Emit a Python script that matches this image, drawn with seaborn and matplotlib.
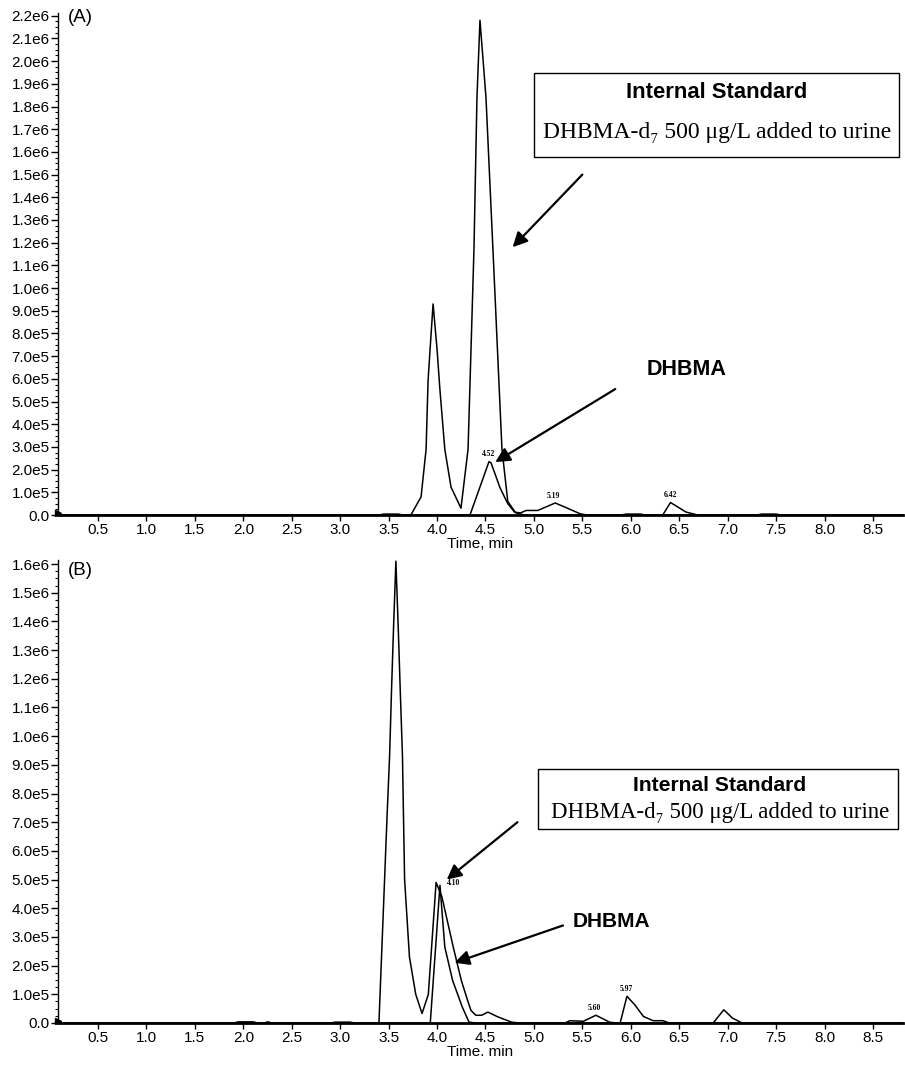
import matplotlib
matplotlib.use("Agg")
import matplotlib.pyplot as plt
import numpy as np
import pandas as pd
import seaborn as sns
from matplotlib.ticker import MultipleLocator, FuncFormatter, AutoMinorLocator
from matplotlib.patches import Rectangle

# ---------------- data ----------------
# Panel A, trace 1 (two large peaks)
a1_time = [0.10, 3.40, 3.45, 3.60, 3.65, 3.73, 3.835, 3.887, 3.907, 3.928, 3.959, 4.00, 4.03,
           4.08, 4.144, 4.247, 4.32, 4.381, 4.412, 4.443, 4.505, 4.577, 4.67, 4.73, 4.81,
           4.90, 5.90, 5.95, 6.10, 6.15, 7.30, 7.35, 7.50, 7.55, 8.81]
a1_int = [0, 0, 4e3, 4e3, 0, 0, 8.0e4, 2.9e5, 5.9e5, 7.3e5, 9.3e5, 7.3e5, 5.5e5,
          2.9e5, 1.23e5, 3.0e4, 2.9e5, 1.17e6, 1.84e6, 2.18e6, 1.84e6, 1.17e6, 2.9e5, 6.0e4, 1.0e4,
          0, 0, 4e3, 4e3, 0, 0, 4e3, 4e3, 0, 0]
# Panel A, trace 2 (DHBMA)
a2_time = [0.10, 4.34, 4.536, 4.557, 4.65, 4.73, 4.80, 4.86, 4.92, 5.04, 5.22, 5.48, 5.55,
           6.33, 6.41, 6.57, 6.69, 8.81]
a2_int = [0, 0, 2.35e5, 2.30e5, 1.2e5, 5.0e4, 1.3e4, 9e3, 2.0e4, 2.0e4, 5.3e4, 5e3, 0,
          0, 5.5e4, 1.3e4, 0, 0]
a_peak_labels = ["4.52", "5.19", "6.42"]
a_peak_times = [4.53, 5.20, 6.41]
a_peak_heights = [2.35e5, 5.3e4, 5.5e4]

# Panel B, trace 1 (large peak near 3.57)
b1_time = [0.10, 1.90, 1.95, 2.10, 2.15, 2.22, 2.25, 2.30, 2.90, 2.95, 3.10, 3.15,
           3.40, 3.485, 3.51, 3.53, 3.55, 3.575, 3.60, 3.62, 3.643, 3.653, 3.665, 3.715,
           3.78, 3.845, 3.91, 3.99, 4.05, 4.167, 4.25, 4.315, 4.35, 4.40, 4.46, 4.525,
           4.63, 4.77, 4.85, 6.85, 6.96, 7.05, 7.15, 8.81]
b1_int = [0, 0, 4e3, 4e3, 0, 0, 4e3, 0, 0, 3e3, 3e3, 0,
          0, 7.3e5, 9.3e5, 1.16e6, 1.37e6, 1.61e6, 1.37e6, 1.16e6, 9.3e5, 7.3e5, 5.0e5, 2.3e5,
          1.0e5, 3.3e4, 1.0e5, 4.9e5, 4.4e5, 2.65e5, 1.49e5, 7.9e4, 4.4e4, 2.7e4, 2.7e4, 3.8e4,
          2.1e4, 3e3, 0, 0, 4.6e4, 1.7e4, 0, 0]
# Panel B, trace 2 (labelled peaks)
b2_time = [0.10, 3.93, 4.03, 4.08, 4.16, 4.26, 4.33, 4.40, 5.32, 5.37, 5.51, 5.64, 5.78,
           5.85, 5.89, 5.96, 6.04, 6.13, 6.23, 6.33, 6.40, 8.81]
b2_int = [0, 0, 4.8e5, 2.65e5, 1.49e5, 5.6e4, 3e3, 0, 0, 8e3, 6e3, 2.7e4, 3e3,
          0, 0, 9.3e4, 6.4e4, 2.3e4, 8e3, 8e3, 0, 0]
b_peak_labels = ["4.10", "5.60", "5.97"]
b_peak_times = [4.17, 5.62, 5.95]
b_peak_heights = [4.65e5, 2.7e4, 9.3e4]

box_title = "Internal Standard"
box_line = "DHBMA-d\u2087 500 \u03bcg/L added to urine"

# ---------------- style ----------------
sns.set_theme(style="ticks")
plt.rcParams["font.family"] = ["Liberation Sans", "DejaVu Sans"]
plt.rcParams["axes.linewidth"] = 1.0
for key in ("text.color", "axes.labelcolor", "xtick.color", "ytick.color",
            "axes.edgecolor"):
    plt.rcParams[key] = "black"
SERIF = ["Liberation Serif", "DejaVu Serif"]

W, H = 905, 1067
fig = plt.figure(figsize=(W / 100, H / 100), dpi=100)


def px_axes(left, top, right, bottom):
    return [left / W, 1 - bottom / H, (right - left) / W, (bottom - top) / H]


ax1 = fig.add_axes(px_axes(58, 13, 903, 515))
ax2 = fig.add_axes(px_axes(58, 560, 903, 1023))


def sci_fmt(v, pos):
    if v < -1:
        return ""
    if abs(v) < 1:
        return "0.0"
    e = int(np.floor(np.log10(v) + 1e-9))
    m = v / 10 ** e
    return f"{m:.1f}e{e}"


def draw_trace(ax, t, y):
    df = pd.DataFrame({"time": t, "intensity": y})
    sns.lineplot(data=df, x="time", y="intensity", ax=ax, color="black",
                 linewidth=1.1, sort=False, estimator=None)


def style_axes(ax, ymax, xlabel):
    ax.set_xlim(0.087, 8.81)
    ax.set_ylim(0, ymax)
    ax.xaxis.set_major_locator(MultipleLocator(0.5))
    ax.xaxis.set_major_formatter(FuncFormatter(lambda v, p: f"{v:.1f}" if v > 0.3 else ""))
    ax.yaxis.set_major_locator(MultipleLocator(1e5))
    ax.yaxis.set_minor_locator(AutoMinorLocator(4))
    ax.yaxis.set_major_formatter(FuncFormatter(sci_fmt))
    for s in ("top", "right"):
        ax.spines[s].set_visible(False)
    ax.spines["bottom"].set_linewidth(2.0)
    ax.spines["left"].set_linewidth(1.0)
    ax.tick_params(axis="x", direction="out", length=4, width=1, pad=2,
                   labelsize=11, colors="black")
    ax.tick_params(axis="y", which="major", direction="out", length=5, width=1,
                   pad=1, labelsize=11, colors="black")
    ax.tick_params(axis="y", which="minor", direction="out", length=2.5, width=0.8,
                   colors="black")
    ax.set_xlabel(xlabel, fontsize=11, labelpad=0, color="black")
    ax.set_ylabel("")
    ax.grid(False)
    ax.plot([0.0], [0.004], marker=">", ms=5, color="black", transform=ax.transAxes,
            clip_on=False)


# ---------------- panel A ----------------
draw_trace(ax1, a1_time, a1_int)
draw_trace(ax1, a2_time, a2_int)
style_axes(ax1, 2.212e6, "Time, min")
for lab, t, h in zip(a_peak_labels, a_peak_times, a_peak_heights):
    ax1.text(t, h + 1.5e4, lab, ha="center", va="bottom", fontsize=5.5,
             family=SERIF, weight="bold")

ax1.add_patch(Rectangle((5.0, 1.577e6), 3.77, 0.37e6, fill=False, lw=1.0,
                        edgecolor="black", zorder=5))
ax1.text(6.89, 1.863e6, box_title, ha="center", va="center", fontsize=15.8,
         weight="bold")
ax1.text(6.89, 1.687e6, box_line, ha="center", va="center", fontsize=17,
         family=SERIF)
ax1.annotate("", xy=(4.78, 1.18e6), xytext=(5.50, 1.50e6),
             arrowprops=dict(arrowstyle="-|>", color="black", lw=1.6,
                             mutation_scale=22, shrinkA=0, shrinkB=0))
ax1.annotate("", xy=(4.60, 2.33e5), xytext=(5.84, 5.55e5),
             arrowprops=dict(arrowstyle="-|>", color="black", lw=1.6,
                             mutation_scale=22, shrinkA=0, shrinkB=0))
ax1.text(6.58, 6.4e5, "DHBMA", ha="center", va="center", fontsize=15.5,
         weight="bold")
fig.text(68 / W, 1 - 9 / H, "(A)", ha="left", va="top", fontsize=13.5)

# ---------------- panel B ----------------
draw_trace(ax2, b1_time, b1_int)
draw_trace(ax2, b2_time, b2_int)
style_axes(ax2, 1.614e6, "Time. min")
for lab, t, h in zip(b_peak_labels, b_peak_times, b_peak_heights):
    ax2.text(t, h + 1.0e4, lab, ha="center", va="bottom", fontsize=5.5,
             family=SERIF, weight="bold")

ax2.add_patch(Rectangle((5.04, 0.676e6), 3.72, 0.209e6, fill=False, lw=1.0,
                        edgecolor="black", zorder=5))
ax2.text(6.92, 0.829e6, box_title, ha="center", va="center", fontsize=15.2,
         weight="bold")
ax2.text(6.92, 0.735e6, box_line, ha="center", va="center", fontsize=16.5,
         family=SERIF)
ax2.annotate("", xy=(4.10, 5.0e5), xytext=(4.83, 7.0e5),
             arrowprops=dict(arrowstyle="-|>", color="black", lw=1.6,
                             mutation_scale=22, shrinkA=0, shrinkB=0))
ax2.annotate("", xy=(4.18, 2.1e5), xytext=(5.30, 3.4e5),
             arrowprops=dict(arrowstyle="-|>", color="black", lw=1.6,
                             mutation_scale=22, shrinkA=0, shrinkB=0))
ax2.text(5.80, 3.55e5, "DHBMA", ha="center", va="center", fontsize=15,
         weight="bold")
fig.text(68 / W, 1 - 562 / H, "(B)", ha="left", va="top", fontsize=13.5)

fig.savefig("out.png", dpi=100)
